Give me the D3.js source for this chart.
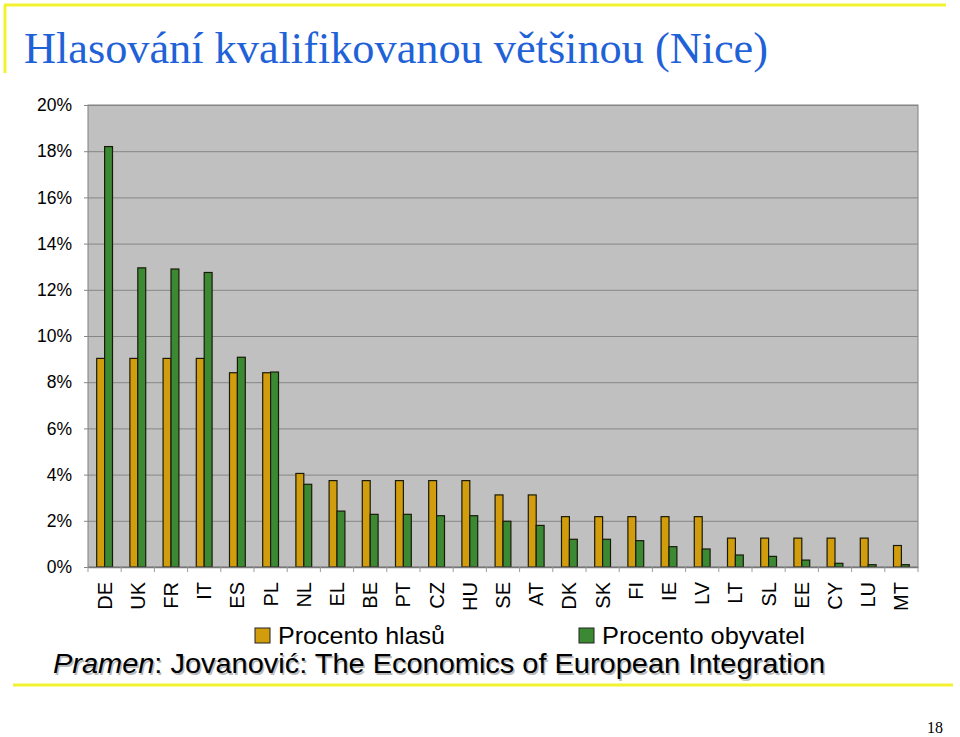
<!DOCTYPE html>
<html>
<head>
<meta charset="utf-8">
<script src="https://cdn.jsdelivr.net/npm/d3@7"></script>
<style>
  body { margin: 0; background: #fff; }
  svg { display: block; }
</style>
</head>
<body>
<svg width="960" height="737"></svg>
<script>
const countries = ["DE", "UK", "FR", "IT", "ES", "PL", "NL", "EL", "BE", "PT", "CZ", "HU", "SE",
  "AT", "DK", "SK", "FI", "IE", "LV", "LT", "SL", "EE", "CY", "LU", "MT"];
const votes = [9.03, 9.03, 9.03, 9.03, 8.41, 8.41, 4.05, 3.74, 3.74, 3.74, 3.74, 3.74, 3.12,
  3.12, 2.18, 2.18, 2.18, 2.18, 2.18, 1.25, 1.25, 1.25, 1.25, 1.25, 0.93];
const population = [18.2, 12.95, 12.9, 12.75, 9.08, 8.44, 3.58, 2.42, 2.28, 2.28, 2.22, 2.22, 1.98,
  1.8, 1.2, 1.2, 1.14, 0.88, 0.78, 0.52, 0.46, 0.3, 0.16, 0.1, 0.1];
const yTicks = [0, 2, 4, 6, 8, 10, 12, 14, 16, 18, 20];
const seriesNames = ["Procento hlasů", "Procento obyvatel"];
const colors = ["#d19d0c", "#3b8a33"];

const data = countries.map((c, i) => ({ name: c, values: [votes[i], population[i]] }));

const margin = { top: 105, right: 42, bottom: 170, left: 88 };
const width = 960, height = 737;
const sans = "Liberation Sans, Arial, sans-serif";

const svg = d3.select("svg");

// slide decoration
const deco = svg.append("g").attr("stroke", "#f2f230").attr("stroke-width", 3);
deco.append("line").attr("x1", 4).attr("x2", 946).attr("y1", 5).attr("y2", 5);
deco.append("line").attr("x1", 5).attr("x2", 5).attr("y1", 5).attr("y2", 73);
deco.append("line").attr("x1", 13).attr("x2", 953).attr("y1", 685).attr("y2", 685);

svg.append("text")
  .attr("x", 24).attr("y", 63)
  .attr("font-family", "Liberation Serif, serif")
  .attr("font-size", 44)
  .attr("textLength", 744)
  .attr("lengthAdjust", "spacingAndGlyphs")
  .attr("fill", "#1f62d8")
  .text("Hlasování kvalifikovanou většinou (Nice)");

const x = d3.scaleBand()
  .domain(countries)
  .range([margin.left, width - margin.right]);

const x1 = d3.scaleBand()
  .domain([0, 1])
  .range([0, x.bandwidth()])
  .paddingOuter(1.1)
  .paddingInner(0);

const y = d3.scaleLinear()
  .domain([0, 20])
  .range([height - margin.bottom, margin.top]);

// plot area
svg.append("rect")
  .attr("x", margin.left).attr("y", y(20))
  .attr("width", width - margin.right - margin.left)
  .attr("height", y(0) - y(20))
  .attr("fill", "#c0c0c0")
  .attr("stroke", "#808080");

const yAxis = (g) => g
  .attr("transform", `translate(${margin.left},0)`)
  .call(d3.axisLeft(y).tickValues(yTicks).tickFormat(d => d + "%")
    .tickSize(-(width - margin.right - margin.left)).tickSizeOuter(0).tickPadding(16))
  .call(g => g.select(".domain").remove())
  .call(g => g.selectAll(".tick line").attr("stroke", "#868686").attr("x1", -4))
  .call(g => g.selectAll(".tick text")
    .attr("font-family", sans)
    .attr("font-size", 17.5).attr("fill", "#000"));

svg.append("g").call(yAxis);

// bars
const groups = svg.append("g")
  .selectAll("g")
  .data(data)
  .join("g")
  .attr("transform", d => `translate(${x(d.name)},0)`);

groups.selectAll("rect")
  .data(d => d.values.map((v, i) => ({ v, i })))
  .join("rect")
  .attr("x", d => x1(d.i))
  .attr("y", d => y(d.v))
  .attr("width", x1.bandwidth())
  .attr("height", d => y(0) - y(d.v))
  .attr("fill", d => colors[d.i])
  .attr("stroke", "#1a1a0a")
  .attr("stroke-width", 1.2);

// x axis
const xAxis = (g) => g
  .attr("transform", `translate(0,${y(0)})`)
  .call(d3.axisBottom(x).tickSize(0).tickPadding(0))
  .call(g => g.select(".domain").attr("stroke", "#777").attr("stroke-width", 1.5))
  .call(g => g.selectAll(".tick text")
    .attr("font-family", sans)
    .attr("font-size", 20).attr("fill", "#000")
    .attr("text-anchor", "end")
    .attr("transform", "translate(7,15) rotate(-90)")
    .attr("dy", null).attr("y", 0).attr("x", 0));

svg.append("g").call(xAxis);

// band separators under the axis
svg.append("g")
  .selectAll("line")
  .data(countries.concat(["end"]))
  .join("line")
  .attr("x1", (d, i) => i < countries.length ? x(d) : width - margin.right)
  .attr("x2", (d, i) => i < countries.length ? x(d) : width - margin.right)
  .attr("y1", y(0)).attr("y2", y(0) + 5)
  .attr("stroke", "#9a9a9a");

// legend
const legendX = [255, 579];
const legendW = [167, 203];
const legend = svg.append("g")
  .selectAll("g")
  .data(seriesNames)
  .join("g")
  .attr("transform", (d, i) => `translate(${legendX[i]},628)`);
legend.append("rect")
  .attr("width", 15).attr("height", 15)
  .attr("fill", (d, i) => colors[i])
  .attr("stroke", "#222");
legend.append("text")
  .attr("x", 23).attr("y", 16)
  .attr("font-family", sans)
  .attr("font-size", 24)
  .attr("textLength", (d, i) => legendW[i])
  .attr("lengthAdjust", "spacingAndGlyphs")
  .text(d => d);

// source line with soft shadow
const src = (g, dx, dy, fill) => {
  const t = g.append("text")
    .attr("x", 53 + dx).attr("y", 673 + dy)
    .attr("font-family", sans)
    .attr("font-size", 28.5)
    .attr("textLength", 772)
    .attr("lengthAdjust", "spacingAndGlyphs")
    .attr("fill", fill);
  t.append("tspan").attr("font-style", "italic").text("Pramen");
  t.append("tspan").text(": Jovanović: The Economics of European Integration");
};
const srcG = svg.append("g");
src(srcG, 1.5, 1.5, "#bbbbbb");
src(srcG, 0, 0, "#000");

svg.append("text")
  .attr("x", 943).attr("y", 733)
  .attr("text-anchor", "end")
  .attr("font-family", "Liberation Serif, serif")
  .attr("font-size", 16)
  .text("18");
</script>
</body>
</html>
